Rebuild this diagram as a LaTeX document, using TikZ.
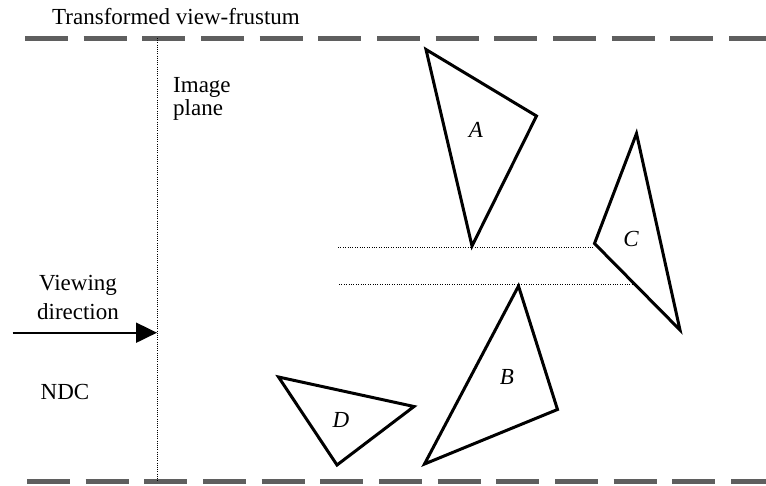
\documentclass[tikz,border=0pt]{standalone}
\usepackage{fontspec}
\setmainfont{Liberation Serif}
\usetikzlibrary{arrows.meta}
\definecolor{frustgray}{HTML}{5F5F5F}
\tikzset{
  frust/.style={draw=frustgray, line width=5pt, dash pattern=on 43pt off 15.67pt},
  plane/.style={draw=black, line width=1pt, dash pattern=on 1pt off 1.2pt},
  guide/.style={draw=black, line width=1pt, dash pattern=on 1pt off 1.4pt},
  tri/.style={draw=black, line width=3pt, line join=miter},
  lbl/.style={font=\fontsize{23}{27}\selectfont, inner sep=0pt},
  tlbl/.style={font=\fontsize{23}{27}\selectfont\itshape, inner sep=0pt, anchor=base},
  viewarrow/.style={draw=black, line width=2pt, -{Triangle[length=21pt,width=20pt]}}
}
\begin{document}
\begin{tikzpicture}[x=1pt, y=-1pt]
\useasboundingbox (0,0) rectangle (766,485);
% frustum boundaries
\coordinate (ftl) at (25,38.5);
\coordinate (ftr) at (766,38.5);
\coordinate (fbl) at (27,481);
\coordinate (fbr) at (766,481);
\draw[frust] (ftl) -- (ftr);
\draw[frust] (fbl) -- (fbr);
\node[lbl, anchor=base west] (title) at (52,24.3) {Transformed view-frustum};
% image plane
\coordinate (pt) at (157,38);
\coordinate (pb) at (157,481);
\draw[plane] (pt) -- (pb);
\node[lbl, anchor=base west] (img1) at (173,92) {Image};
\node[lbl, anchor=base west] (img2) at (173,115.5) {plane};
% viewing direction
\node[lbl, anchor=base] (view1) at (78,290.5) {Viewing};
\node[lbl, anchor=base] (view2) at (78,319) {direction};
\coordinate (vs) at (12.7,332.7);
\coordinate (ve) at (157,332.7);
\draw[viewarrow] (vs) -- (ve);
\node[lbl, anchor=base] (ndc) at (65,399) {NDC};
% triangle A
\coordinate (a1) at (426,49.5);
\coordinate (a2) at (536.5,116);
\coordinate (a3) at (472,246);
\draw[tri] (a1) -- (a2) -- (a3) -- cycle;
\node[tlbl] (la) at (476,137) {A};
% triangle C
\coordinate (c1) at (636.5,133.5);
\coordinate (c2) at (594.5,243.5);
\coordinate (c3) at (680,330);
\draw[tri] (c1) -- (c2) -- (c3) -- cycle;
\node[tlbl] (lc) at (631,246.5) {C};
% triangle B
\coordinate (b1) at (518.5,286);
\coordinate (b2) at (557.5,409.5);
\coordinate (b3) at (424.5,464);
\draw[tri] (b1) -- (b2) -- (b3) -- cycle;
\node[tlbl] (lb) at (507,384) {B};
% triangle D
\coordinate (d1) at (278.5,377);
\coordinate (d2) at (414,406.5);
\coordinate (d3) at (337,465);
\draw[tri] (d1) -- (d2) -- (d3) -- cycle;
\node[tlbl] (ld) at (341,427.5) {D};
% dotted guide lines
\coordinate (g1s) at (338,247.5);
\coordinate (g1e) at (594,247.5);
\coordinate (g2s) at (339,284);
\coordinate (g2e) at (633.5,284);
\draw[guide] (g1s) -- (g1e);
\draw[guide] (g2s) -- (g2e);
\end{tikzpicture}
\end{document}
